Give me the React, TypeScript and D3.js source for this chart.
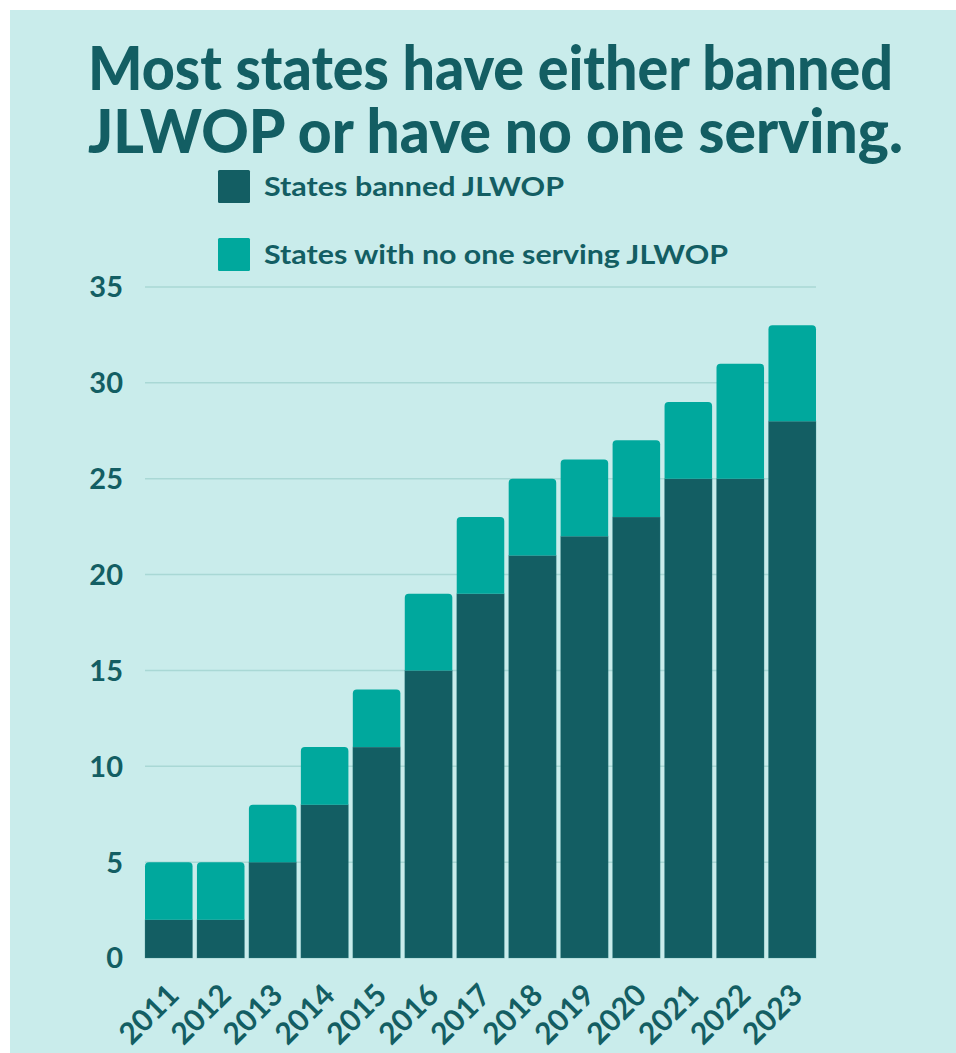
import React from "react";
import * as d3 from "d3";

const years = ["2011","2012","2013","2014","2015","2016","2017","2018","2019","2020","2021","2022","2023"];
const bannedValues = [2, 2, 5, 8, 11, 15, 19, 21, 22, 23, 25, 25, 28];
const noOneServingValues = [3, 3, 3, 3, 3, 4, 4, 4, 4, 4, 4, 6, 5];
const yTicks = [0, 5, 10, 15, 20, 25, 30, 35];
const titleLines = ["Most states have either banned", "JLWOP or have no one serving."];
const legendLabels = ["States banned JLWOP", "States with no one serving JLWOP"];

const DARK = "#135e63";
const TEAL = "#00a89d";
const BG = "#c9eceb";
const GRID = "#a9d8d5";
const FONT = "Lato, 'Open Sans', sans-serif";

function topRoundedRect(x: number, y: number, w: number, h: number, r: number) {
  const rr = Math.min(r, h, w / 2);
  const p = d3.path();
  p.moveTo(x, y + h);
  p.lineTo(x, y + rr);
  p.arcTo(x, y, x + rr, y, rr);
  p.lineTo(x + w - rr, y);
  p.arcTo(x + w, y, x + w, y + rr, rr);
  p.lineTo(x + w, y + h);
  p.closePath();
  return p.toString();
}

export default function App() {
  const W = 956, H = 1053;
  const x = d3.scaleBand<string>().domain(years).range([145, 816]).paddingInner(0.085).paddingOuter(0);
  const y = d3.scaleLinear().domain([0, 35]).range([958, 287]);
  const bw = x.bandwidth();

  return (
    <svg width={W} height={H} style={{ position: "absolute", left: 0, top: 0, background: "#ffffff" }}>
      <rect x={10} y={10} width={W - 10} height={H - 10} fill={BG} />
      {titleLines.map((t, i) => (
        <text key={t} x={88} y={90 + i * 63} fontFamily={FONT} fontWeight={900} fontSize={61}
          fill={DARK} textLength={i === 0 ? 805 : 815} lengthAdjust="spacingAndGlyphs">{t}</text>
      ))}
      {legendLabels.map((t, i) => (
        <g key={t}>
          <rect x={218} y={170 + i * 68} width={32} height={33} rx={1.5} fill={i === 0 ? DARK : TEAL} />
          <text x={264} y={196 + i * 68} fontFamily={FONT} fontWeight={700} fontSize={26} fill={DARK}
            textLength={i === 0 ? 300 : 464} lengthAdjust="spacingAndGlyphs">{t}</text>
        </g>
      ))}
      {yTicks.filter(v => v > 0).map(v => (
        <line key={v} x1={145} x2={816} y1={y(v)} y2={y(v)} stroke={GRID} strokeWidth={1.5} />
      ))}
      {yTicks.map(v => (
        <text key={v} x={123} y={y(v)} dy="0.36em" textAnchor="end" fontFamily={FONT} fontWeight={700}
          fontSize={29} fill={DARK}>{v}</text>
      ))}
      {years.map((yr, i) => {
        const bx = x(yr)!;
        const b = bannedValues[i];
        const total = b + noOneServingValues[i];
        return (
          <g key={yr}>
            <rect x={bx} y={y(b)} width={bw} height={y(0) - y(b)} fill={DARK} stroke="#3f8a8c" strokeOpacity={0.35} strokeWidth={0.8} />
            <path d={topRoundedRect(bx, y(total), bw, y(b) - y(total), 4)} fill={TEAL} />
          </g>
        );
      })}
      {years.map(yr => {
        const cx = x(yr)! + bw / 2 + 12;
        const cy = 997;
        return (
          <text key={yr} x={cx} y={cy} textAnchor="end" fontFamily={FONT} fontWeight={700} fontSize={30}
            fill={DARK} transform={`rotate(-45, ${cx}, ${cy})`}>{yr}</text>
        );
      })}
    </svg>
  );
}
